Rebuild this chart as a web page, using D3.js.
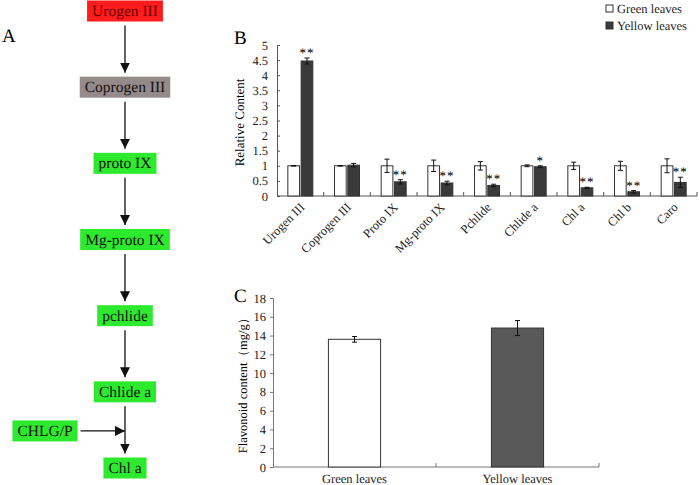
<!DOCTYPE html>
<html>
<head>
<meta charset="utf-8">
<script src="https://cdn.jsdelivr.net/npm/d3@7"></script>
<style>
  body { margin: 0; background: #fff; }
  svg { font-family: "Liberation Serif", "Times New Roman", serif; }
</style>
</head>
<body>
<div id="chart"></div>
<script>
// Panel A pathway
var pathSteps = ["Urogen III", "Coprogen III", "proto IX", "Mg-proto IX", "pchlide", "Chlide a", "Chl a"];
var sideStep = "CHLG/P";

// Panel B data
var compounds = ["Urogen III", "Coprogen III", "Proto IX", "Mg-proto IX", "Pchlide", "Chlide a", "Chl a", "Chl b", "Caro"];
var greenVals = [1.0, 1.0, 1.0, 1.0, 1.0, 1.0, 1.0, 1.0, 1.0];
var greenErr = [0.01, 0.01, 0.22, 0.19, 0.14, 0.03, 0.12, 0.15, 0.23];
var yellowVals = [4.47, 1.02, 0.47, 0.43, 0.35, 0.97, 0.27, 0.14, 0.45];
var yellowErr = [0.1, 0.06, 0.07, 0.06, 0.04, 0.03, 0.02, 0.04, 0.17];
var signif = ["**", "", "**", "**", "**", "*", "**", "**", "**"];
var yTicksB = [0, 0.5, 1, 1.5, 2, 2.5, 3, 3.5, 4, 4.5, 5];

// Panel C data
var leafTypes = ["Green leaves", "Yellow leaves"];
var flavonoid = [13.6, 14.8];
var flavonoidErr = [0.3, 0.8];
var yTicksC = [0, 2, 4, 6, 8, 10, 12, 14, 16, 18];

var svg = d3.select("#chart")
  .append("svg")
  .attr("width", 699)
  .attr("height", 485)
  .attr("text-rendering", "geometricPrecision");

// ---------- Panel A ----------
svg.append("text")
  .attr("x", 2).attr("y", 42)
  .style("font-size", "19px")
  .text("A");

var stepColors = {"Urogen III": "#ff1c1c", "Coprogen III": "#958a8a"};
var yStep = d3.scalePoint().domain(pathSteps).range([11, 468]);
var colX = 125;
var boxH = 21;

svg.append("defs").append("marker")
  .attr("id", "arrow")
  .attr("viewBox", "0 0 10 10")
  .attr("refX", 10).attr("refY", 5)
  .attr("markerWidth", 10).attr("markerHeight", 10)
  .attr("markerUnits", "userSpaceOnUse")
  .attr("orient", "auto")
  .append("path")
  .attr("d", "M0,0L10,5L0,10Z")
  .attr("fill", "#111");

function drawBox(label, cx, cy, fill, color) {
  var g = svg.append("g");
  var rect = g.append("rect");
  var t = g.append("text")
    .attr("x", cx).attr("y", cy + 5)
    .attr("text-anchor", "middle")
    .style("font-size", "15.5px")
    .style("fill", color)
    .text(label);
  var w = t.node().getComputedTextLength() + 10;
  rect.attr("x", cx - w / 2).attr("y", cy - boxH / 2)
    .attr("width", w).attr("height", boxH)
    .attr("fill", fill);
  return w;
}

pathSteps.forEach(function (s, i) {
  drawBox(s, colX, yStep(s), stepColors[s] || "#2eea2e", s === "Urogen III" ? "#6a0000" : "#111");
  if (i < pathSteps.length - 1) {
    svg.append("line")
      .attr("x1", colX).attr("x2", colX)
      .attr("y1", yStep(s) + boxH / 2 + 4)
      .attr("y2", yStep(pathSteps[i + 1]) - boxH / 2 - 4)
      .attr("stroke", "#111").attr("stroke-width", 1.3)
      .attr("marker-end", "url(#arrow)");
  }
});

var sideY = (yStep("Chlide a") + yStep("Chl a")) / 2 + 1;
var sideW = drawBox(sideStep, 45, sideY, "#2eea2e", "#111");
svg.append("line")
  .attr("x1", 45 + sideW / 2 + 3).attr("x2", colX)
  .attr("y1", sideY).attr("y2", sideY)
  .attr("stroke", "#111").attr("stroke-width", 1.3)
  .attr("marker-end", "url(#arrow)");

// ---------- Panel B ----------
var bLeft = 277, bRight = 697, bTop = 45, bBottom = 196;
var x0 = d3.scaleBand().domain(compounds).range([bLeft, bRight]);
var x1 = d3.scaleBand().domain(["g", "y"])
  .range([x0.bandwidth() / 2 - 12.5, x0.bandwidth() / 2 + 12.5]).paddingInner(0.12);
var yB = d3.scaleLinear().domain([0, 5]).range([bBottom, bTop]);

svg.append("text")
  .attr("x", 234).attr("y", 44)
  .style("font-size", "19px")
  .text("B");

var axisB = svg.append("g")
  .attr("transform", `translate(${bLeft},0)`)
  .call(d3.axisLeft(yB).tickValues(yTicksB).tickFormat(d => d).tickSize(-3).tickSizeOuter(0).tickPadding(9));
axisB.selectAll("text").style("font-size", "12.5px").style("font-family", "Liberation Serif").attr("fill", "#222");
axisB.selectAll("line, path").attr("stroke", "#555");

svg.append("line")
  .attr("x1", bLeft).attr("x2", bRight)
  .attr("y1", bBottom).attr("y2", bBottom)
  .attr("stroke", "#555");
svg.selectAll(".tickB")
  .data(compounds.slice(1).concat(["end"]))
  .enter().append("line")
  .attr("x1", d => d === "end" ? bRight : x0(d))
  .attr("x2", d => d === "end" ? bRight : x0(d))
  .attr("y1", bBottom).attr("y2", bBottom - 4)
  .attr("stroke", "#555");

svg.append("text")
  .attr("transform", `translate(244,${(bTop + bBottom) / 2 + 2}) rotate(-90)`)
  .attr("text-anchor", "middle")
  .style("font-size", "13px")
  .text("Relative Content");

var bars = [];
compounds.forEach(function (c, i) {
  bars.push({c: c, k: "g", v: greenVals[i], e: greenErr[i], s: ""});
  bars.push({c: c, k: "y", v: yellowVals[i], e: yellowErr[i], s: signif[i]});
});

svg.selectAll(".barB")
  .data(bars)
  .enter().append("rect")
  .attr("x", d => x0(d.c) + x1(d.k))
  .attr("y", d => yB(d.v))
  .attr("width", x1.bandwidth())
  .attr("height", d => yB(0) - yB(d.v))
  .attr("fill", d => d.k === "g" ? "#fff" : "#3a3a3a")
  .attr("stroke", "#333").attr("stroke-width", 1);

function errBar(sel, xf, yScale) {
  sel.append("line")
    .attr("x1", xf).attr("x2", xf)
    .attr("y1", d => yScale(d.v + d.e)).attr("y2", d => yScale(d.v - d.e))
    .attr("stroke", "#111");
  sel.append("line")
    .attr("x1", d => xf(d) - 2.5).attr("x2", d => xf(d) + 2.5)
    .attr("y1", d => yScale(d.v + d.e)).attr("y2", d => yScale(d.v + d.e))
    .attr("stroke", "#111");
  sel.append("line")
    .attr("x1", d => xf(d) - 2.5).attr("x2", d => xf(d) + 2.5)
    .attr("y1", d => yScale(d.v - d.e)).attr("y2", d => yScale(d.v - d.e))
    .attr("stroke", "#111");
}

var errB = svg.selectAll(".errB").data(bars).enter().append("g");
errBar(errB, d => x0(d.c) + x1(d.k) + x1.bandwidth() / 2, yB);

svg.selectAll(".sigB")
  .data(bars.filter(d => d.s))
  .enter().append("text")
  .attr("x", d => x0(d.c) + x1(d.k) + x1.bandwidth() / 2)
  .attr("y", d => yB(d.v + d.e) - 1)
  .attr("text-anchor", "middle")
  .style("font-size", "13px")
  .style("letter-spacing", "1px")
  .attr("fill", "#000")
  .text(d => d.s);

svg.selectAll(".labB")
  .data(compounds)
  .enter().append("text")
  .attr("transform", d => `translate(${x0(d) + x0.bandwidth() / 2 + 5},${bBottom + 12}) rotate(-45)`)
  .attr("text-anchor", "end")
  .style("font-size", "12.5px")
  .attr("fill", "#222")
  .text(d => d);

// legend
var legKeys = [{name: "Green leaves", fill: "#fff"}, {name: "Yellow leaves", fill: "#3a3a3a"}];
var leg = svg.selectAll(".leg").data(legKeys).enter().append("g")
  .attr("transform", (d, i) => `translate(606,${5 + i * 17})`);
leg.append("rect")
  .attr("width", 7).attr("height", 7)
  .attr("fill", d => d.fill).attr("stroke", "#333");
leg.append("text")
  .attr("x", 11).attr("y", 7.5)
  .style("font-size", "12.5px")
  .attr("fill", "#222")
  .text(d => d.name);

// ---------- Panel C ----------
var cLeft = 273, cRight = 599, cTop = 298, cBottom = 467;
var xC = d3.scaleBand().domain(leafTypes).range([cLeft, cRight]).paddingInner(0.68).paddingOuter(0.34);
var yC = d3.scaleLinear().domain([0, 18]).range([cBottom, cTop]);

svg.append("text")
  .attr("x", 234).attr("y", 302)
  .style("font-size", "19px")
  .text("C");

var axisC = svg.append("g")
  .attr("transform", `translate(${cLeft},0)`)
  .call(d3.axisLeft(yC).tickValues(yTicksC).tickSize(3).tickSizeOuter(0).tickPadding(4));
axisC.selectAll("text").style("font-size", "12.5px").style("font-family", "Liberation Serif").attr("fill", "#222");
axisC.selectAll("line, path").attr("stroke", "#777");

svg.append("line")
  .attr("x1", cLeft).attr("x2", cRight)
  .attr("y1", cBottom).attr("y2", cBottom)
  .attr("stroke", "#777");
svg.selectAll(".tickC")
  .data(leafTypes.slice(1).concat(["end"]))
  .enter().append("line")
  .attr("x1", d => d === "end" ? cRight : xC(d) - xC.step() * 0.34)
  .attr("x2", d => d === "end" ? cRight : xC(d) - xC.step() * 0.34)
  .attr("y1", cBottom).attr("y2", cBottom - 4)
  .attr("stroke", "#777");

svg.append("text")
  .attr("transform", `translate(247,${(cTop + cBottom) / 2}) rotate(-90)`)
  .attr("text-anchor", "middle")
  .style("font-size", "12.5px")
  .text("Flavonoid content（mg/g）");

var barsC = leafTypes.map((d, i) => ({c: d, v: flavonoid[i], e: flavonoidErr[i], i: i}));
svg.selectAll(".barC")
  .data(barsC)
  .enter().append("rect")
  .attr("x", d => xC(d.c))
  .attr("y", d => yC(d.v))
  .attr("width", xC.bandwidth())
  .attr("height", d => yC(0) - yC(d.v))
  .attr("fill", d => d.i === 0 ? "#fff" : "#595959")
  .attr("stroke", "#333");

var errC = svg.selectAll(".errC").data(barsC).enter().append("g");
errBar(errC, d => xC(d.c) + xC.bandwidth() / 2, yC);

svg.selectAll(".labC")
  .data(leafTypes)
  .enter().append("text")
  .attr("x", d => xC(d) + xC.bandwidth() / 2)
  .attr("y", 483)
  .attr("text-anchor", "middle")
  .style("font-size", "12.5px")
  .attr("fill", "#222")
  .text(d => d);
</script>
</body>
</html>
